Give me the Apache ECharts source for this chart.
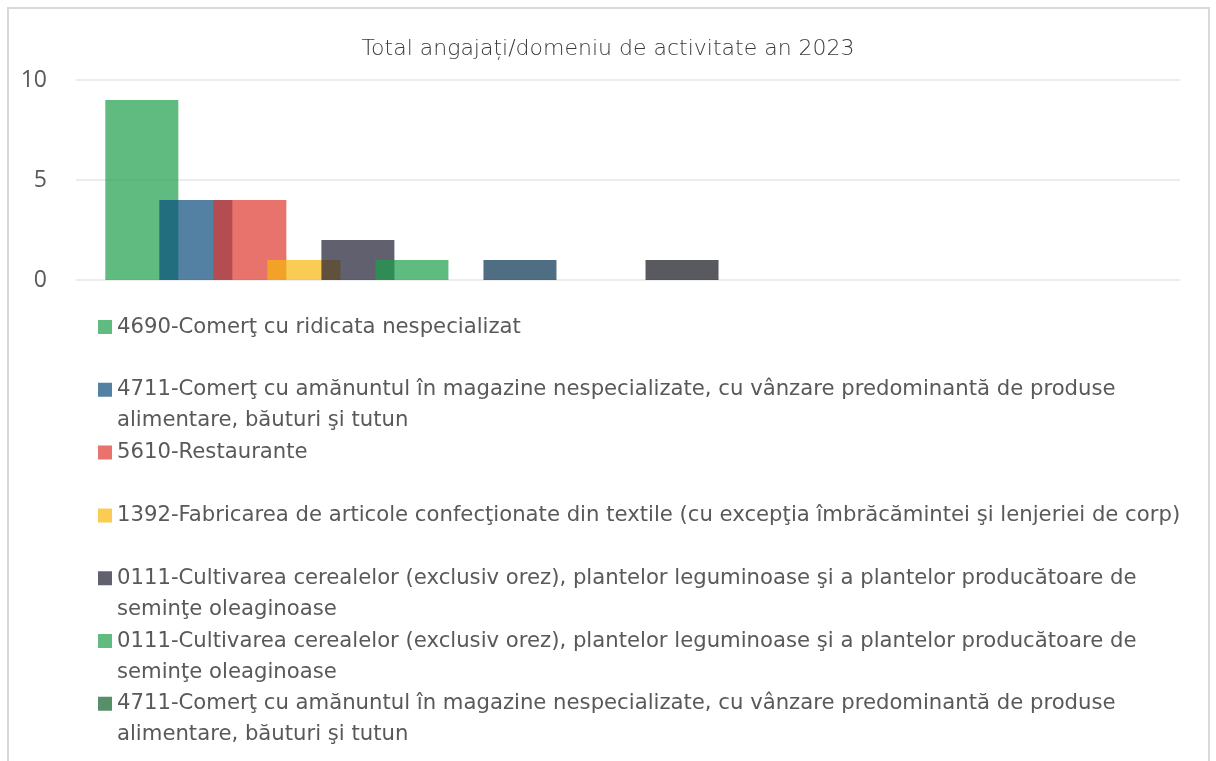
<!DOCTYPE html>
<html>
<head>
<meta charset="utf-8">
<title>Total angajați/domeniu de activitate an 2023</title>
<script src="https://cdn.jsdelivr.net/npm/echarts@6/dist/echarts.min.js"></script>
<style>
  html, body { margin: 0; padding: 0; background: #ffffff; }
  #chart { width: 1216px; height: 761px; }
</style>
</head>
<body>
<div id="chart"></div>
<script>
// ---- chart data -------------------------------------------------------
const chartTitle = 'Total angajați/domeniu de activitate an 2023';
const categories = [''];

// Employee count per activity domain (one bar per series, in order)
const seriesValues = [9, 4, 4, 1, 2, 1, 0, 1, 0, 0, 1, 0, 0, 0, 0, 0, 0, 0, 0];

// Legend names for the leading series
const legendNames = [
  '4690-Comerţ cu ridicata nespecializat',
  '4711-Comerţ cu amănuntul în magazine nespecializate, cu vânzare predominantă de produse alimentare, băuturi şi tutun',
  '5610-Restaurante',
  '1392-Fabricarea de articole confecţionate din textile (cu excepţia îmbrăcămintei şi lenjeriei de corp)',
  '0111-Cultivarea cerealelor (exclusiv orez), plantelor leguminoase şi a plantelor producătoare de seminţe oleaginoase',
  '0111-Cultivarea cerealelor (exclusiv orez), plantelor leguminoase şi a plantelor producătoare de seminţe oleaginoase',
  '4711-Comerţ cu amănuntul în magazine nespecializate, cu vânzare predominantă de produse alimentare, băuturi şi tutun'
];

const yTicks = { min: 0, max: 10, interval: 5 };

// ---- styling ----------------------------------------------------------
const barColors = [
  'rgba(29,158,74,0.7)',  'rgba(8,76,126,0.7)',   'rgba(222,55,45,0.7)',
  'rgba(248,182,11,0.7)', 'rgba(29,29,48,0.7)',   'rgba(29,158,74,0.7)',
  'rgba(16,95,42,0.7)',   'rgba(5,48,78,0.7)',    'rgba(120,60,140,0.7)',
  'rgba(200,90,30,0.7)',  'rgba(19,19,28,0.7)',   'rgba(70,130,180,0.7)',
  'rgba(180,40,80,0.7)',  'rgba(100,160,60,0.7)', 'rgba(60,60,140,0.7)',
  'rgba(150,110,40,0.7)', 'rgba(40,140,140,0.7)', 'rgba(170,70,170,0.7)',
  'rgba(90,90,90,0.7)'
];

const textGray = '#595959';
const legendFont = 'DejaVu Sans';
const legendFontSize = 21.2;
const legendLineHeight = 31;
const legendWrapWidth = 1075;
const legendIcon = 14;
const legendFirstCenter = 327;
const legendStep = 62.8;

// word-wrap a legend label to the legend text width
const measureCtx = document.createElement('canvas').getContext('2d');
measureCtx.font = legendFontSize + 'px "' + legendFont + '"';
function wrapLabel(text) {
  const out = [];
  let current = '';
  text.split(' ').forEach(function (w) {
    const trial = current ? current + ' ' + w : w;
    if (current && measureCtx.measureText(trial).width > legendWrapWidth) {
      out.push(current);
      current = w;
    } else {
      current = trial;
    }
  });
  out.push(current);
  return out;
}

// square marker sitting at the top of a taller box, so it lines up with the first text line
function topSquareIcon(boxHeight) {
  const s = legendIcon;
  return 'path://M0,0L' + s + ',0L' + s + ',' + s + 'L0,' + s + 'Z' +
    'M0,' + (boxHeight - 0.01) + 'L0.01,' + boxHeight;
}

// one legend block per entry
const legends = legendNames.map(function (name, i) {
  const lines = wrapLabel(name);
  const boxHeight = legendIcon + (lines.length - 1) * legendLineHeight;
  const center = legendFirstCenter + i * legendStep;
  const textTop = legendIcon / 2 - legendLineHeight / 2;   // relative to marker top
  return {
    show: true,
    orient: 'vertical',
    left: 98,
    top: center - legendIcon / 2 + Math.min(0, textTop),
    padding: 0,
    itemGap: 0,
    itemWidth: legendIcon,
    itemHeight: boxHeight,
    selectedMode: false,
    formatter: function () { return lines.join('\n'); },
    data: [{ name: name, icon: topSquareIcon(boxHeight), itemStyle: { color: barColors[i] } }],
    textStyle: {
      fontFamily: legendFont,
      fontSize: legendFontSize,
      color: textGray,
      lineHeight: legendLineHeight
    }
  };
});

const series = seriesValues.map(function (v, i) {
  const s = {
    type: 'bar',
    data: [v],
    barWidth: 73,
    barGap: '-26%',
    itemStyle: { color: barColors[i] },
    emphasis: { disabled: true }
  };
  if (i < legendNames.length) s.name = legendNames[i];
  return s;
});

const chart = echarts.init(document.getElementById('chart'), null, { renderer: 'canvas' });
chart.setOption({
  backgroundColor: '#ffffff',
  animation: false,
  title: {
    text: chartTitle,
    left: 'center',
    top: 33,
    textStyle: {
      fontFamily: 'DejaVu Sans',
      fontSize: 22,
      fontWeight: 200,
      color: '#3a3a3a'
    }
  },
  graphic: [{
    type: 'rect',
    silent: true,
    shape: { x: 8, y: 8, width: 1201, height: 800 },
    style: { fill: 'none', stroke: '#d9d9d9', lineWidth: 2 }
  }],
  legend: legends,
  grid: { left: 76, right: 36, top: 80, height: 200, containLabel: false },
  xAxis: {
    type: 'category',
    data: categories,
    axisLine: { show: false },
    axisTick: { show: false },
    axisLabel: { show: false },
    splitLine: { show: false }
  },
  yAxis: {
    type: 'value',
    min: yTicks.min,
    max: yTicks.max,
    interval: yTicks.interval,
    axisLine: { show: false },
    axisTick: { show: false },
    axisLabel: {
      margin: 29,
      fontFamily: 'Open Sans',
      fontSize: 23,
      color: textGray
    },
    splitLine: { lineStyle: { color: '#ececec', width: 2 } }
  },
  series: series
});
</script>
</body>
</html>
